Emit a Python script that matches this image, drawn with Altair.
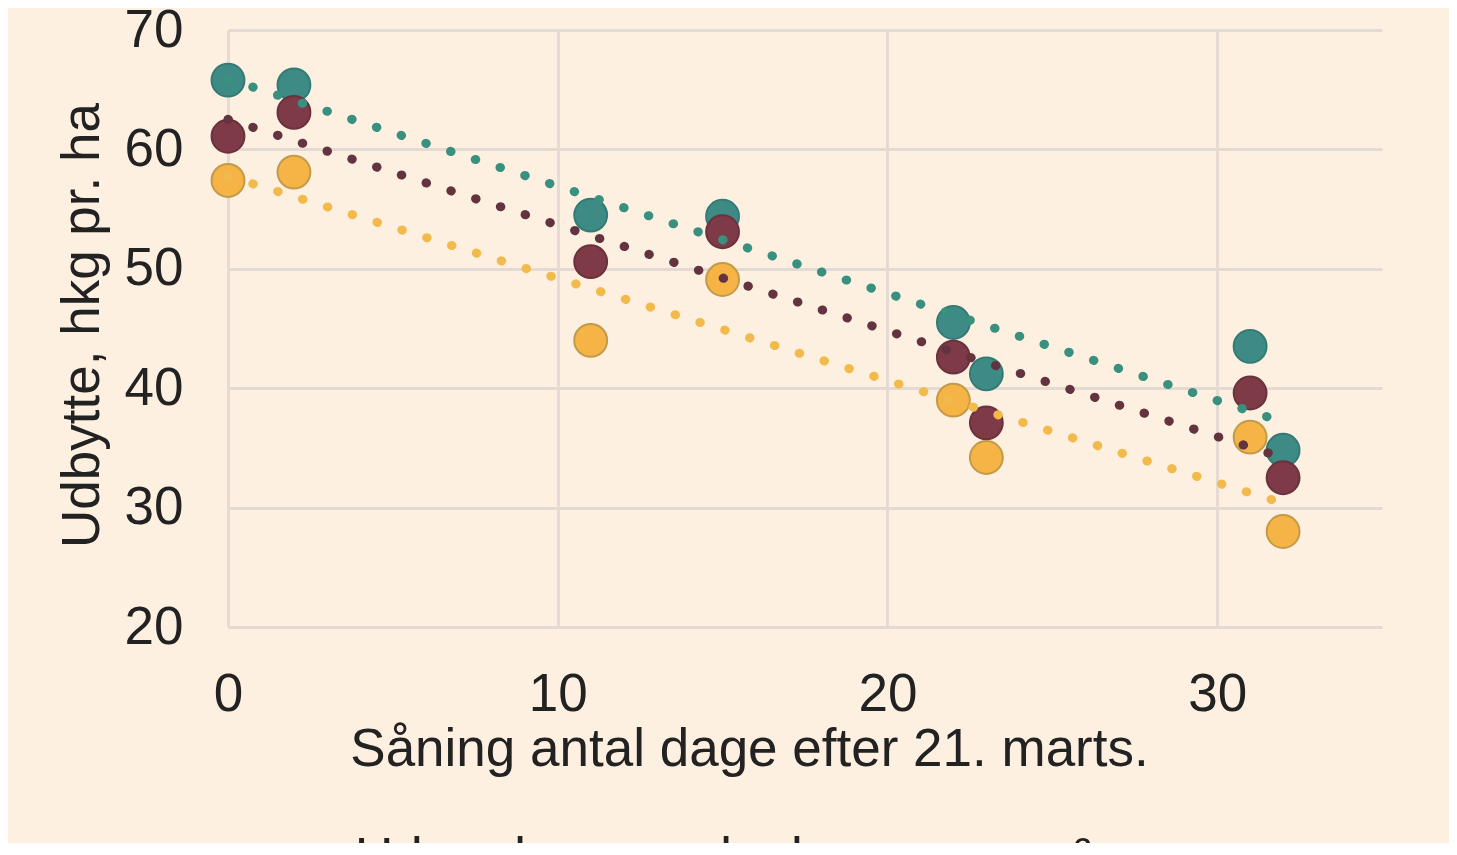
import altair as alt
import pandas as pd

# ---- data ----
days = [0, 2, 11, 15, 22, 23, 31, 32]
series_names = ["Serie 1", "Serie 2", "Serie 3"]
teal_vals = [65.8, 65.4, 54.5, 54.4, 45.5, 41.2, 43.5, 34.8]
maroon_vals = [61.1, 63.1, 50.6, 53.1, 42.6, 37.1, 39.6, 32.5]
yellow_vals = [57.4, 58.1, 44.0, 49.1, 39.0, 34.2, 35.9, 28.0]
x_ticks = [0, 10, 20, 30]
y_ticks = [20, 30, 40, 50, 60, 70]
x_title = "Såning antal dage efter 21. marts."
y_title = "Udbytte, hkg pr. ha"
bottom_text = ["Udsædsmængde, kerner pr. m²"]

fill_colors = ["#3E8B85", "#7E3A47", "#F6B446"]
stroke_colors = ["#357B75", "#6A323D", "#C29B4A"]
line_colors = ["#39907F", "#633440", "#F2BA4A"]

rows = []
for si, (name, vals) in enumerate(zip(series_names, [teal_vals, maroon_vals, yellow_vals])):
    for d, v in zip(days, vals):
        rows.append({"serie": name, "dag": d, "udbytte": v, "ord": si})
df = pd.DataFrame(rows)

FONT = "Liberation Sans"
TXT = "#222222"
GRID = "#E5DAD3"

x_enc = alt.X(
    "dag:Q",
    scale=alt.Scale(domain=[0, 35], nice=False, zero=False),
    axis=alt.Axis(
        values=x_ticks, grid=True, gridColor=GRID, gridWidth=2.8, domain=False,
        ticks=False, tickSize=0, labelPadding=41, labelFontSize=53, labelFont=FONT,
        labelColor=TXT, labelFlush=False, title=x_title, titleFont=FONT, titleFontSize=53,
        titleFontWeight="normal", titleColor=TXT, titleX=521, titleY=138,
        titleBaseline="alphabetic", titleAlign="center",
    ),
)
y_enc = alt.Y(
    "udbytte:Q",
    scale=alt.Scale(domain=[20, 70], nice=False, zero=False),
    axis=alt.Axis(
        values=y_ticks, grid=True, gridColor=GRID, gridWidth=2.8, domain=False,
        ticks=False, tickSize=0, labelPadding=45, labelFontSize=53, labelFont=FONT,
        labelColor=TXT, labelFlush=False, title=y_title, titleFont=FONT, titleFontSize=53,
        titleFontWeight="normal", titleColor=TXT, titleAngle=270, titleX=-130,
        titleY=295, titleBaseline="alphabetic", titleAlign="center",
    ),
)

points = alt.Chart(df).mark_point(
    filled=True, shape="circle", size=1080, opacity=1, strokeWidth=2, strokeOpacity=1
).encode(
    x=x_enc,
    y=y_enc,
    color=alt.Color("serie:N", scale=alt.Scale(domain=series_names, range=fill_colors), legend=None),
    stroke=alt.Stroke("serie:N", scale=alt.Scale(domain=series_names, range=stroke_colors), legend=None),
    order=alt.Order("ord:Q"),
)

lines = alt.Chart(df).transform_regression(
    "dag", "udbytte", groupby=["serie"]
).mark_line(
    strokeDash=[0.5, 25.5], strokeCap="round", strokeWidth=9
).encode(
    x="dag:Q",
    y="udbytte:Q",
    color=alt.Color("serie:N", scale=alt.Scale(domain=series_names, range=line_colors), legend=None),
)

note = alt.Chart(pd.DataFrame({"t": bottom_text})).mark_text(
    align="left", baseline="alphabetic", font=FONT, fontSize=53, color=TXT
).encode(
    text="t:N",
    x=alt.value(127),
    y=alt.value(845),
)

chart = alt.layer(points, lines, note).resolve_scale(
    color="independent", stroke="independent"
).properties(
    width=1154,
    height=597,
    padding={"left": 220, "top": 22, "right": 67, "bottom": 216},
    autosize=alt.AutoSizeParams(type="none"),
    background="#FDF0E0",
).configure_view(stroke=None)

chart.save("out.html", embed_options={"renderer": "svg", "actions": False})
